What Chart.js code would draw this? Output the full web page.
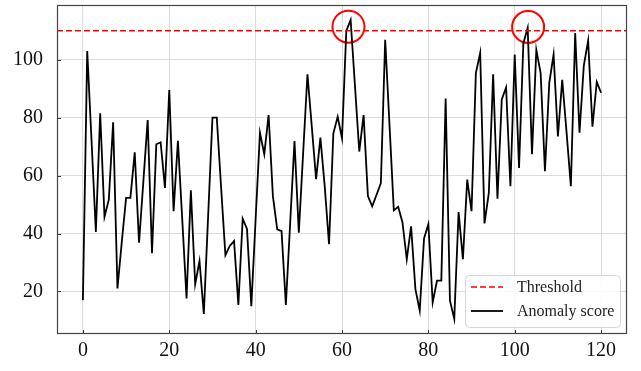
<!DOCTYPE html>
<html>
<head>
<meta charset="utf-8">
<script src="https://cdn.jsdelivr.net/npm/chart.js@4"></script>
<style>
    html, body { margin: 0; padding: 0; background: #fff; }
</style>
</head>
<body>
<canvas id="chart" width="641" height="371"></canvas>
<script>
// anomaly score per time step
const scores = [
    17, 103, 72, 40.5, 81.5, 45.8, 51.7, 78.4, 21, 37,
    52.3, 52.3, 68, 36.8, 58, 79.2, 33.2, 70.8, 71.5, 55.7,
    89.5, 47.7, 72, 45, 17.6, 54.9, 22.5, 30.5, 12.2, 46,
    80, 80, 56, 32.5, 35.7, 37.4, 15.3, 45.1, 41.6, 14.9,
    45, 74.8, 67.4, 80.9, 52.9, 41.4, 40.8, 15.3, 43.7, 71.9,
    40.3, 67.7, 95, 77, 58.8, 73.1, 56.3, 36.3, 74.6, 80.3,
    72.9, 110, 113.7, 91, 68.3, 80.9, 52.9, 49.4, 53.4, 57.4,
    106.9, 77.5, 48, 49.2, 43.9, 31.1, 42.5, 20.8, 13.4, 38.3,
    43.2, 16.2, 23.7, 23.7, 86.6, 16.8, 10.5, 47.4, 31.1, 58.6,
    47.7, 95.4, 102.4, 43.5, 54, 95, 52, 86.3, 90.4, 56.3,
    101.8, 62.6, 105.7, 111, 67.4, 103.4, 95.4, 61.5, 92, 101.8,
    73.5, 93.1, 75, 56.3, 109.2, 74.8, 98, 106.6, 76.9, 92.3,
    88.6
]
const steps = scores.map((_, i) => i)
const threshold = 110
const xRange = [-6, 126]
const yRange = [5.3, 118.9]
const xTicks = [0, 20, 40, 60, 80, 100, 120]
const yTicks = [20, 40, 60, 80, 100]
// red circles marking the two exceedances
const anomalyX = [61.5, 103.1]
const anomalyY = [111.4, 111.3]
const legendLabels = ["Threshold", "Anomaly score"]

const serif = "'Liberation Serif', 'Times New Roman', serif"

// matplotlib-like frame, inward ticks and the legend inside the axes
const framePlugin = {
    id: "frame",
    afterDraw(chart) {
        const { ctx, chartArea: a, scales } = chart
        ctx.save()
        ctx.strokeStyle = "#333"
        ctx.lineWidth = 1
        ctx.beginPath()
        xTicks.forEach(v => {
            const px = Math.round(scales.x.getPixelForValue(v)) + 0.5
            ctx.moveTo(px, a.bottom)
            ctx.lineTo(px, a.bottom - 4)
        })
        yTicks.forEach(v => {
            const py = Math.round(scales.y.getPixelForValue(v)) + 0.5
            ctx.moveTo(a.left, py)
            ctx.lineTo(a.left + 4, py)
        })
        ctx.stroke()
        ctx.strokeStyle = "#444"
        ctx.lineWidth = 1.2
        ctx.strokeRect(a.left + 0.5, a.top + 0.5, a.width - 1, a.height - 1)

        // legend box
        const w = 155, h = 52
        const x0 = a.right - 7 - w, y0 = a.bottom - 7 - h
        ctx.beginPath()
        ctx.roundRect(x0 + 0.5, y0 + 0.5, w, h, 4)
        ctx.fillStyle = "rgba(255,255,255,0.85)"
        ctx.fill()
        ctx.strokeStyle = "#d6d6d6"
        ctx.lineWidth = 1
        ctx.stroke()

        ctx.lineWidth = 1.6
        ctx.strokeStyle = "#ff0000"
        ctx.setLineDash([6, 3])
        ctx.beginPath()
        ctx.moveTo(x0 + 6, y0 + 12)
        ctx.lineTo(x0 + 38, y0 + 12)
        ctx.stroke()
        ctx.setLineDash([])
        ctx.strokeStyle = "#000"
        ctx.lineWidth = 1.8
        ctx.beginPath()
        ctx.moveTo(x0 + 6, y0 + 36)
        ctx.lineTo(x0 + 38, y0 + 36)
        ctx.stroke()

        ctx.fillStyle = "#222"
        ctx.font = "16px " + serif
        ctx.textBaseline = "middle"
        ctx.fillText(legendLabels[0], x0 + 52, y0 + 13)
        ctx.fillText(legendLabels[1], x0 + 52, y0 + 37)
        ctx.restore()
    }
}

new Chart(document.getElementById("chart"), {
    type: "line",
    data: {
        datasets: [
            {
                label: legendLabels[0],
                data: xRange.map(x => ({ x: x, y: threshold })),
                borderColor: "#ff0000",
                borderWidth: 1.6,
                borderDash: [6, 3],
                pointRadius: 0
            },
            {
                label: legendLabels[1],
                data: steps.map((x, i) => ({ x: x, y: scores[i] })),
                borderColor: "#000",
                borderWidth: 1.8,
                tension: 0,
                pointRadius: 0
            },
            {
                type: "scatter",
                label: "anomalies",
                data: anomalyX.map((x, i) => ({ x: x, y: anomalyY[i] })),
                pointRadius: 16,
                pointBorderWidth: 2,
                pointBorderColor: "#ff0000",
                pointBackgroundColor: "rgba(0,0,0,0)",
                showLine: false
            }
        ]
    },
    options: {
        responsive: false,
        animation: false,
        devicePixelRatio: 1,
        layout: { autoPadding: false, padding: { top: 5, right: 14, left: 0, bottom: 0 } },
        plugins: {
            legend: { display: false },
            tooltip: { enabled: false }
        },
        scales: {
            x: {
                type: "linear",
                min: xRange[0],
                max: xRange[1],
                afterBuildTicks: s => { s.ticks = xTicks.map(v => ({ value: v })) },
                afterFit: s => { s.height = 37; s.paddingLeft = 0; s.paddingRight = 0 },
                grid: { color: "#dcdcdc", drawTicks: false },
                border: { display: false },
                ticks: { color: "#111", padding: 5, font: { family: serif, size: 20 } }
            },
            y: {
                min: yRange[0],
                max: yRange[1],
                afterBuildTicks: s => { s.ticks = yTicks.map(v => ({ value: v })) },
                afterFit: s => { s.width = 57; s.paddingTop = 0; s.paddingBottom = 0 },
                grid: { color: "#dcdcdc", drawTicks: false },
                border: { display: false },
                ticks: { color: "#111", padding: 14, font: { family: serif, size: 20 } }
            }
        }
    },
    plugins: [framePlugin]
});
</script>
</body>
</html>
